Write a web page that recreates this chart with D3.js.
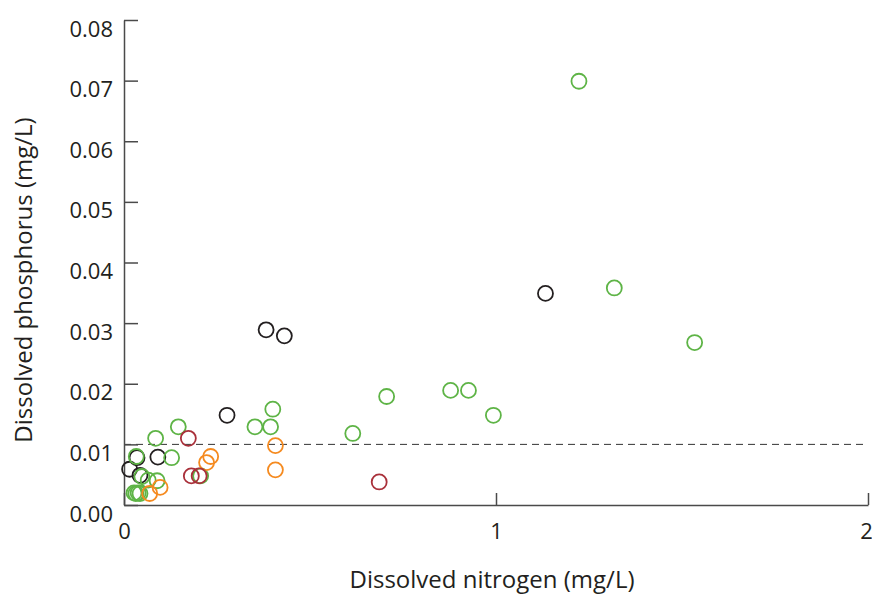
<!DOCTYPE html>
<html lang="en">
	<head>
		<meta charset="utf-8">
		<title>nitrogen vs phosphorus</title>
		<script type="text/javascript" src="https://cdn.jsdelivr.net/npm/d3@7"></script>
		<style type="text/css">
			body { margin: 0; background: #fff; }
			text { font-family: "Open Sans", sans-serif; fill: #231f20; }
		</style>
	</head>
	<body>
		<script type="text/javascript">

// dissolved nitrogen (x) and phosphorus (y), mg/L, by group
var blackN = [1.133, 0.382, 0.431, 0.277, 0.035, 0.091, 0.015, 0.043]
var blackP = [0.0349, 0.0289, 0.0279, 0.0148, 0.0078, 0.0079, 0.0059, 0.0049]

var greenN = [1.223, 1.318, 1.534, 0.400, 0.352, 0.394, 0.615, 0.706, 0.878, 0.926, 0.993,
              0.146, 0.085, 0.128, 0.033, 0.048, 0.065, 0.089, 0.206, 0.027, 0.032, 0.038, 0.043]
var greenP = [0.0699, 0.0358, 0.0268, 0.0158, 0.0129, 0.0129, 0.0118, 0.0179, 0.0189, 0.0189, 0.0148,
              0.0129, 0.0110, 0.0078, 0.0080, 0.0047, 0.0041, 0.0040, 0.0048, 0.0020, 0.0019, 0.0020, 0.0019]

var orangeN = [0.407, 0.407, 0.233, 0.222, 0.069, 0.097]
var orangeP = [0.0098, 0.0058, 0.0080, 0.0070, 0.0019, 0.0029]

var redN = [0.173, 0.181, 0.202, 0.686]
var redP = [0.0110, 0.0048, 0.0048, 0.0038]

var xTicks = [0, 1, 2]
var yTicks = [0, 0.01, 0.02, 0.03, 0.04, 0.05, 0.06, 0.07, 0.08]
var limitP = 0.01

var groups = [
	{n: blackN, p: blackP, color: "#231f20"},
	{n: greenN, p: greenP, color: "#5eb446"},
	{n: orangeN, p: orangeP, color: "#f58a1f"},
	{n: redN, p: redP, color: "#a9303a"}
]

var W = 872, H = 596
var m = {top: 20, right: 4, bottom: 91, left: 124}
var w = W - m.left - m.right
var h = H - m.top - m.bottom

var svg = d3.select("body").append("svg")
	.attr("width", W)
	.attr("height", H)

var g = svg.append("g").attr("transform", "translate(" + m.left + "," + m.top + ")")

var x = d3.scaleLinear().domain([0, 2]).range([0, w])
var y = d3.scaleLinear().domain([0, 0.08]).range([h, 0])

// limit line
g.append("line")
	.attr("x1", x(0)).attr("x2", x(2))
	.attr("y1", y(limitP)).attr("y2", y(limitP))
	.attr("stroke", "#333")
	.attr("stroke-width", 1)
	.attr("stroke-dasharray", "7,5")

// axes
var yAxis = d3.axisLeft(y).tickValues(yTicks).tickFormat(d3.format(".2f"))
	.tickSizeInner(-14).tickSizeOuter(0).tickPadding(11)
var gy = g.append("g").call(yAxis)

var xAxis = d3.axisBottom(x).tickValues(xTicks).tickFormat(d3.format("d"))
	.tickSizeInner(-12).tickSizeOuter(0).tickPadding(18)
var gx = g.append("g").attr("transform", "translate(0," + h + ")").call(xAxis)

;[gx, gy].forEach(function(a){
	a.select(".domain").attr("stroke", "#4a4a4a").attr("stroke-width", 1.5)
	a.selectAll(".tick line").attr("stroke", "#4a4a4a").attr("stroke-width", 1.5)
	a.selectAll("text").attr("font-size", "22px").attr("font-family", "Open Sans, sans-serif").attr("fill", "#231f20")
})
gy.selectAll("text").attr("dy", null).attr("y", 16)
gx.selectAll(".tick").filter(function(d){ return d == 2 }).select("text").attr("dx", "-2")

// points
groups.forEach(function(s){
	g.append("g").selectAll("circle")
		.data(d3.range(s.n.length))
		.enter()
		.append("circle")
		.attr("cx", function(i){ return x(s.n[i]) })
		.attr("cy", function(i){ return y(s.p[i]) })
		.attr("r", 7.5)
		.attr("fill", "none")
		.attr("stroke", s.color)
		.attr("stroke-width", 1.8)
})

// axis titles
svg.append("text")
	.attr("x", 492)
	.attr("y", 588)
	.attr("text-anchor", "middle")
	.attr("font-size", "24px")
	.text("Dissolved nitrogen (mg/L)")

svg.append("text")
	.attr("transform", "translate(32,280) rotate(-90)")
	.attr("text-anchor", "middle")
	.attr("font-size", "24px")
	.text("Dissolved phosphorus (mg/L)")

		</script>
	</body>
</html>
